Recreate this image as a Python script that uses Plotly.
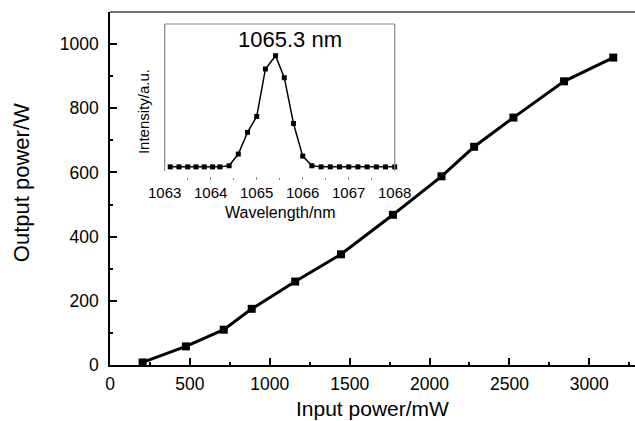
import plotly.graph_objects as go

# Main curve data
input_power_mw = [204, 475, 712, 887, 1159, 1446, 1771, 2075, 2279, 2525, 2842, 3150]
output_power_w = [8, 58, 110, 175, 260, 345, 468, 588, 680, 771, 884, 958]

# Inset spectrum data
wavelength_nm = [1063.12, 1063.31, 1063.50, 1063.68, 1063.86, 1064.04, 1064.20, 1064.40,
                 1064.60, 1064.80, 1065.00, 1065.19, 1065.41, 1065.60, 1065.80, 1066.00,
                 1066.20, 1066.40, 1066.60, 1066.80, 1067.00, 1067.20, 1067.40, 1067.60,
                 1067.80, 1068.00]
intensity_au = [0.085, 0.085, 0.085, 0.085, 0.085, 0.085, 0.085, 0.092,
                0.167, 0.306, 0.408, 0.712, 0.797, 0.656, 0.363, 0.154,
                0.092, 0.085, 0.085, 0.085, 0.085, 0.085, 0.085, 0.085,
                0.085, 0.085]

main_xticks = [0, 500, 1000, 1500, 2000, 2500, 3000]
main_yticks = [0, 200, 400, 600, 800, 1000]
inset_xticks = [1063, 1064, 1065, 1066, 1067, 1068]

FONT = "Liberation Sans, Arial, sans-serif"

W, H = 635, 421
L, R, T, B = 110, 0, 12, 56.3
pw, ph = W - L - R, H - T - B

def px_x(x):
    return (x - L) / pw

def px_y(y):
    return (H - B - y) / ph

fig = go.Figure()
fig.add_trace(go.Scatter(
    x=input_power_mw, y=output_power_w, mode="lines+markers",
    line=dict(color="black", width=3),
    marker=dict(symbol="square", size=8, color="black"),
    cliponaxis=False, showlegend=False))

fig.add_trace(go.Scatter(
    x=wavelength_nm, y=intensity_au, mode="lines+markers",
    line=dict(color="black", width=1.5),
    marker=dict(symbol="square", size=5, color="black"),
    xaxis="x2", yaxis="y2", cliponaxis=False, showlegend=False))

ix0, ix1 = px_x(164.7), px_x(394.7)
iy0, iy1 = px_y(180), px_y(24)

fig.update_layout(
    width=W, height=H,
    margin=dict(l=L, r=R, t=T, b=B, autoexpand=False),
    paper_bgcolor="white", plot_bgcolor="white",
    font=dict(family=FONT, color="black"),
    xaxis=dict(range=[0, 3286], tickvals=main_xticks, ticks="inside", ticklen=7,
               tickwidth=1.5, tickcolor="black", showline=True, linecolor="black",
               linewidth=1.5, showgrid=False, zeroline=False,
               tickfont=dict(size=17.5), ticklabelstandoff=2,
               minor=dict(ticks="inside", ticklen=3.5, dtick=250, tick0=0,
                          tickcolor="black", tickwidth=1.5)),
    yaxis=dict(range=[0, 1100], tickvals=main_yticks, ticks="inside", ticklen=7,
               tickwidth=1.5, tickcolor="black", showline=True, linecolor="black",
               linewidth=1.5, showgrid=False, zeroline=False,
               tickfont=dict(size=17.5), ticklabelstandoff=6,
               minor=dict(ticks="inside", ticklen=3.5, dtick=100, tick0=0,
                          tickcolor="black", tickwidth=1.5)),
    xaxis2=dict(domain=[ix0, ix1], anchor="y2", range=[1063, 1068],
                tickvals=inset_xticks, ticks="inside", ticklen=3, tickcolor="#888",
                showline=False, showgrid=False, zeroline=False,
                tickfont=dict(size=15), ticklabelstandoff=2,
                minor=dict(ticks="inside", ticklen=2, dtick=0.5, tick0=1063,
                           tickcolor="#888")),
    yaxis2=dict(domain=[iy0, iy1], anchor="x2", range=[0, 1],
                showticklabels=False, ticks="", showline=False,
                showgrid=False, zeroline=False),
)

# Top frame line of main plot
fig.add_shape(type="line", xref="paper", yref="paper", x0=0, x1=1, y0=1, y1=1,
              line=dict(color="#444", width=1.5))
# Inset frame (left, top, right)
for (x0, y0, x1, y1) in [(ix0, iy0 + 0.026, ix0, iy1), (ix0, iy1, ix1, iy1), (ix1, iy0 + 0.026, ix1, iy1)]:
    fig.add_shape(type="line", xref="paper", yref="paper", x0=x0, y0=y0, x1=x1, y1=y1,
                  line=dict(color="#888", width=1.2))

annotations = [
    dict(text="Input power/mW", x=0.5, y=px_y(408), xref="paper", yref="paper",
         xanchor="center", yanchor="middle", showarrow=False, font=dict(size=21)),
    dict(text="Output power/W", x=px_x(21), y=px_y(183), xref="paper", yref="paper",
         xanchor="center", yanchor="middle", textangle=-90, showarrow=False,
         font=dict(size=22)),
    dict(text="1065.3 nm", x=px_x(290), y=px_y(39), xref="paper", yref="paper",
         xanchor="center", yanchor="middle", showarrow=False, font=dict(size=22)),
    dict(text="Wavelength/nm", x=px_x(280), y=px_y(212), xref="paper", yref="paper",
         xanchor="center", yanchor="middle", showarrow=False, font=dict(size=16)),
    dict(text="Intensity/a.u.", x=px_x(143), y=px_y(112), xref="paper", yref="paper",
         xanchor="center", yanchor="middle", textangle=-90, showarrow=False,
         font=dict(size=15)),
]
fig.update_layout(annotations=annotations)

fig.write_html("out.html", config={"displayModeBar": False},
               post_script="document.body.style.margin='0';document.body.style.overflow='hidden';")
